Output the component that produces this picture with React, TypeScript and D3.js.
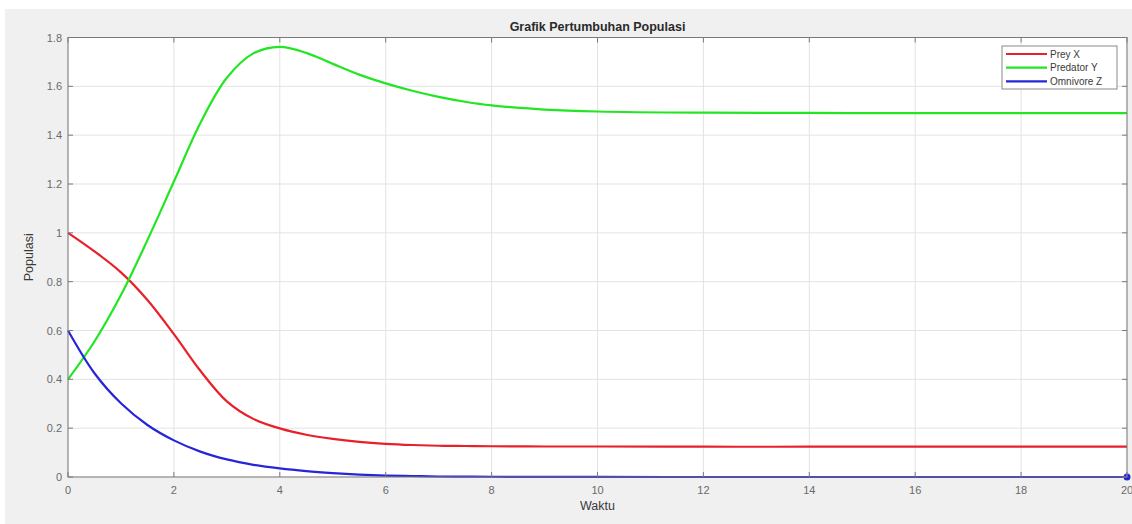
import React from "react";
import * as d3 from "d3";

const times = [0, 0.5, 1, 1.5, 2, 2.5, 3, 3.5, 4, 4.5, 5, 5.5, 6, 6.5, 7, 7.5, 8, 9, 10, 12, 14, 16, 18, 20];
const preyX = [1.0, 0.924, 0.838, 0.725, 0.585, 0.435, 0.31, 0.238, 0.199, 0.173, 0.156, 0.144, 0.136, 0.131, 0.128, 0.127, 0.126, 0.125, 0.125, 0.124, 0.124, 0.124, 0.124, 0.124];
const predatorY = [0.4, 0.555, 0.745, 0.97, 1.21, 1.45, 1.635, 1.735, 1.762, 1.737, 1.692, 1.648, 1.612, 1.582, 1.557, 1.537, 1.522, 1.505, 1.497, 1.492, 1.491, 1.49, 1.49, 1.49];
const omnivoreZ = [0.6, 0.425, 0.302, 0.213, 0.15, 0.104, 0.072, 0.05, 0.035, 0.024, 0.016, 0.01, 0.006, 0.004, 0.002, 0.0015, 0.001, 0.0005, 0.0002, 0, 0, 0, 0, 0];

const seriesNames = ["Prey X", "Predator Y", "Omnivore Z"];
const seriesColors = ["#e8202a", "#22e622", "#2626d8"];
const xTicks = [0, 2, 4, 6, 8, 10, 12, 14, 16, 18, 20];
const yTicks = [0, 0.2, 0.4, 0.6, 0.8, 1, 1.2, 1.4, 1.6, 1.8];

const W = 1132;
const H = 524;
const L = 68, R = 1127, T = 37.5, B = 477;
const FONT = "'Liberation Sans', Arial, Helvetica, sans-serif";

export default function App() {
  const x = d3.scaleLinear().domain([0, 20]).range([L, R]);
  const y = d3.scaleLinear().domain([0, 1.8]).range([B, T]);
  const line = d3
    .line<[number, number]>()
    .x((d) => x(d[0]))
    .y((d) => y(d[1]))
    .curve(d3.curveCatmullRom.alpha(0.5));
  const all = [preyX, predatorY, omnivoreZ];
  const axisColor = "#7a7a7a";
  const tickLen = 5;

  return (
    <svg
      width={W}
      height={H}
      style={{ position: "absolute", left: 0, top: 0, background: "#ffffff" }}
      fontFamily={FONT}
    >
      <rect x={5} y={9} width={W - 5} height={H - 9} fill="#f0f0f0" />
      <rect x={L} y={T} width={R - L} height={B - T} fill="#ffffff" />
      {/* grid */}
      {xTicks.map((t) => (
        <line key={"gx" + t} x1={x(t)} x2={x(t)} y1={T} y2={B} stroke="#e3e3e3" strokeWidth={1} />
      ))}
      {yTicks.map((t) => (
        <line key={"gy" + t} x1={L} x2={R} y1={y(t)} y2={y(t)} stroke="#e3e3e3" strokeWidth={1} />
      ))}
      {/* lines */}
      {all.map((vals, i) => (
        <path
          key={"s" + i}
          d={line(times.map((t, j) => [t, vals[j]] as [number, number])) || ""}
          fill="none"
          stroke={seriesColors[i]}
          strokeWidth={2.2}
        />
      ))}
      <circle cx={x(20)} cy={y(omnivoreZ[omnivoreZ.length - 1])} r={3.5} fill={seriesColors[2]} />
      {/* axes box */}
      <rect x={L} y={T} width={R - L} height={B - T} fill="none" stroke={axisColor} strokeWidth={1} />
      {xTicks.map((t) => (
        <g key={"tx" + t}>
          <line x1={x(t)} x2={x(t)} y1={B} y2={B - tickLen} stroke={axisColor} />
          <line x1={x(t)} x2={x(t)} y1={T} y2={T + tickLen} stroke={axisColor} />
          <text x={x(t)} y={494} textAnchor="middle" fontSize={11} fill="#6a6a6a">
            {t}
          </text>
        </g>
      ))}
      {yTicks.map((t) => (
        <g key={"ty" + t}>
          <line x1={L} x2={L + tickLen} y1={y(t)} y2={y(t)} stroke={axisColor} />
          <line x1={R} x2={R - tickLen} y1={y(t)} y2={y(t)} stroke={axisColor} />
          <text x={62} y={y(t) + 4} textAnchor="end" fontSize={11} fill="#6a6a6a">
            {d3.format("~g")(t)}
          </text>
        </g>
      ))}
      {/* title and labels */}
      <text x={(L + R) / 2} y={31} textAnchor="middle" fontSize={12.5} fontWeight="bold" fill="#2a2a2a">
        Grafik Pertumbuhan Populasi
      </text>
      <text x={(L + R) / 2} y={510} textAnchor="middle" fontSize={12.5} fill="#3a3a3a">
        Waktu
      </text>
      <text
        transform={`translate(33,${(T + B) / 2}) rotate(-90)`}
        textAnchor="middle"
        fontSize={12.5}
        fill="#3a3a3a"
      >
        Populasi
      </text>
      {/* legend */}
      <rect x={1002} y={46} width={115} height={43} fill="#ffffff" stroke="#8a8a8a" strokeWidth={1} />
      {seriesNames.map((n, i) => (
        <g key={"lg" + i}>
          <line x1={1006} x2={1047} y1={54 + i * 13.7} y2={54 + i * 13.7} stroke={seriesColors[i]} strokeWidth={2.2} />
          <text x={1050} y={54 + i * 13.7 + 3.5} fontSize={10} fill="#3a3a3a">
            {n}
          </text>
        </g>
      ))}
    </svg>
  );
}
